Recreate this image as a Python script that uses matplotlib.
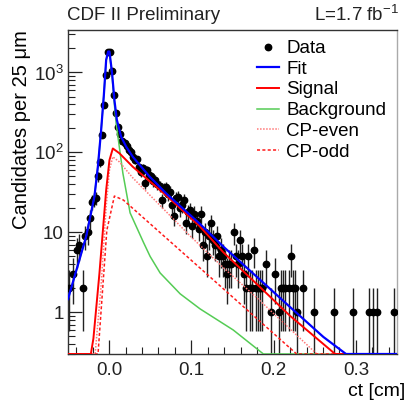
import numpy as np
import matplotlib
matplotlib.use("Agg")
import matplotlib.pyplot as plt
from matplotlib.ticker import MultipleLocator, LogLocator, FuncFormatter, NullFormatter
from matplotlib.lines import Line2D

plt.rcParams['font.family'] = ['Liberation Sans', 'DejaVu Sans']
plt.rcParams['mathtext.fontset'] = 'custom'
plt.rcParams['mathtext.rm'] = 'Liberation Sans'

"Histogram: 25 um bins from -0.05 to 0.35 cm"
bin_lo = -0.05
bin_w = 0.0025
counts = [2, 0, 3, 0, 6, 7, 0, 2, 9, 10,
          15, 24, 26, 27, 50, 75, 165, 390, 935, 1780,
          1800, 1050, 525, 310, 205, 170, 140, 130, 120, 107,
          100, 88, 80, 82, 66, 57, 63, 41, 60, 52,
          50, 44, 45, 40, 38, 25, 35, 37, 30, 32,
          22, 16, 27, 28, 20, 22, 25, 13, 18, 19,
          12, 17, 14, 11, 17, 7, 10, 5, 9, 13,
          8, 7, 9, 5, 6, 5, 4, 3, 4, 4,
          10, 5, 4, 8, 5, 3, 2, 5, 2, 2,
          6, 2, 2, 2, 2, 0, 4, 0, 1, 0,
          3, 0, 1, 2, 2, 2, 0, 2, 5, 2,
          2, 1, 0, 0, 2, 0, 0, 0, 0, 1,
          0, 0, 0, 0, 0, 0, 0, 0, 0, 1,
          0, 0, 0, 0, 0, 0, 0, 0, 1, 0,
          0, 0, 0, 0, 0, 0, 1, 0, 1, 0,
          1, 0, 0, 0, 0, 0, 0, 0, 1, 0]

"Fit curves read off the plot (ct [cm], candidates)"
fit_ct = [-0.05, -0.028, -0.0179, -0.0137, -0.0097, -0.0064, -0.0036, -0.0012, 0.0004,
          0.0036, 0.0064, 0.0094, 0.0146, 0.0207, 0.0288, 0.049, 0.0693, 0.1098, 0.139,
          0.1796, 0.220, 0.2605, 0.288, 0.35]
fit_n = [1.46, 8.8, 27.9, 66, 191, 524, 1440, 1829, 1829,
         980, 454, 255, 157, 118, 88, 50, 30.7, 12.9, 6.6,
         2.77, 1.16, 0.49, 0.3, 0.09]

sig_ct = [-0.05, -0.0222, -0.0191, -0.0118, -0.0036, 0.0004, 0.0045, 0.0125, 0.0288,
          0.0693, 0.1098, 0.139, 0.1796, 0.220, 0.2748, 0.35]
sig_n = [0.001, 0.3, 0.47, 3.05, 33.8, 80, 112, 97.5, 66,
         29, 12.0, 5.6, 2.25, 0.9, 0.3, 0.07]

even_ct = [-0.05, -0.017, -0.010, -0.0036, 0.0004, 0.0045, 0.0125, 0.0288, 0.0985,
           0.139, 0.18, 0.2525, 0.35]
even_n = [0.001, 0.3, 2.0, 21, 60, 88, 76, 48, 9.0,
          3.6, 1.5, 0.3, 0.04]

odd_ct = [-0.05, -0.0135, -0.0077, -0.0028, 0.0064, 0.0174, 0.0985, 0.228, 0.35]
odd_n = [0.001, 0.3, 2.07, 10.6, 28.4, 25.3, 4.6, 0.3, 0.02]

bkg_ct = [-0.05, -0.028, -0.0179, -0.0137, -0.0097, -0.0064, -0.0036, -0.0012, 0.0004,
          0.0036, 0.0064, 0.0085, 0.0167, 0.0255, 0.0417, 0.0498, 0.062, 0.0863,
          0.1106, 0.1508, 0.1876, 0.35]
bkg_n = [1.46, 8.8, 27.9, 66, 191, 520, 1420, 1790, 1780,
         900, 400, 232, 55, 17.5, 7.5, 5.0, 3.1, 1.7,
         1.1, 0.6, 0.3, 0.01]

ymin, ymax = 0.3, 3400.
xmin, xmax = -0.05, 0.35

fig = plt.figure(figsize=(4.08, 4.0), dpi=100)
ax = fig.add_axes([68/408., 46/400., 329/408., 324/400.])

"data points with poisson errors"
counts = np.array(counts, dtype=float)
centers = bin_lo + bin_w*(np.arange(len(counts)) + 0.5)
m = counts > 0
x = centers[m]
n = counts[m]
err = np.sqrt(n)
lo = np.maximum(n - err, 1e-3)
hi = n + err
ax.vlines(x, lo, hi, color='#222222', lw=1.0, zorder=2)
ax.plot(x, n, 'o', color='black', ms=4.6, zorder=3, label='Data', ls='none')

"curves, clipped to the bottom of the frame like ROOT does"
def curve(ct, vals, **kw):
    ax.plot(ct, np.maximum(vals, ymin), zorder=4, **kw)

curve(bkg_ct, bkg_n, color='#55cc55', lw=1.1)
curve(even_ct, even_n, color='#ff7777', lw=1.1, ls=(0, (1, 1)))
curve(odd_ct, odd_n, color='#ff1a1a', lw=1.1, ls=(0, (2, 1.5)))
curve(sig_ct, sig_n, color='#ff0000', lw=1.4)
curve(fit_ct, fit_n, color='#0000ff', lw=1.6)

ax.set_yscale('log')
ax.set_xlim(xmin, xmax)
ax.set_ylim(ymin, ymax)

ax.xaxis.set_major_locator(MultipleLocator(0.1))
ax.xaxis.set_minor_locator(MultipleLocator(0.02))
ax.xaxis.set_major_formatter(FuncFormatter(lambda v, p: '%.1f' % abs(v) if abs(v) < 1e-9 else '%.1f' % v))
ax.yaxis.set_major_locator(LogLocator(base=10, numticks=10))
ax.yaxis.set_minor_locator(LogLocator(base=10, subs=np.arange(2, 10), numticks=20))
ax.yaxis.set_minor_formatter(NullFormatter())

def ylab(v, p):
    e = int(round(np.log10(v)))
    if e == 0:
        return '1'
    if e == 1:
        return '10'
    return r'$\mathregular{10^{%d}}$' % e
ax.yaxis.set_major_formatter(FuncFormatter(ylab))

ax.tick_params(which='both', direction='in', top=False, right=False, labelsize=13.5, colors='#222222')
ax.tick_params(which='major', length=10, width=0.9)
ax.tick_params(which='minor', length=5, width=0.8)
ax.tick_params(axis='x', pad=6)
ax.tick_params(axis='y', pad=3)
for s in ['left', 'bottom', 'top']:
    ax.spines[s].set_linewidth(1.0)
    ax.spines[s].set_color('#333333')
ax.spines['right'].set_color('#aaaaaa')
ax.spines['right'].set_linewidth(1.0)

ax.set_ylabel('Candidates per 25 \u03bcm', fontsize=14.5, loc='top', labelpad=2)
fig.text(405/408., 1 - 391/400., 'ct [cm]', fontsize=14, ha='right', va='center')

fig.text(67/408., 1 - 15/400., 'CDF II Preliminary', fontsize=13.5, ha='left', va='center', color='#222222')
fig.text(399/408., 1 - 15/400., r'L=1.7 fb$^{\mathregular{-1}}$', fontsize=13.5, ha='right', va='center', color='#222222')

handles = [Line2D([], [], marker='o', color='black', ls='none', ms=4.6),
           Line2D([], [], color='#0000ff', lw=1.6),
           Line2D([], [], color='#ff0000', lw=1.4),
           Line2D([], [], color='#55cc55', lw=1.1),
           Line2D([], [], color='#ff7777', lw=1.1, ls=(0, (1, 1))),
           Line2D([], [], color='#ff1a1a', lw=1.1, ls=(0, (2, 1.5)))]
labels = ['Data', 'Fit', 'Signal', 'Background', 'CP-even', 'CP-odd']
ax.legend(handles, labels, loc='upper left', bbox_to_anchor=((257-68)/329., (354-40)/324.),
          frameon=False, fontsize=13.5, handlelength=1.15, handletextpad=0.4,
          labelspacing=0.19, borderpad=0, borderaxespad=0)

plt.savefig('out.png', dpi=100)
